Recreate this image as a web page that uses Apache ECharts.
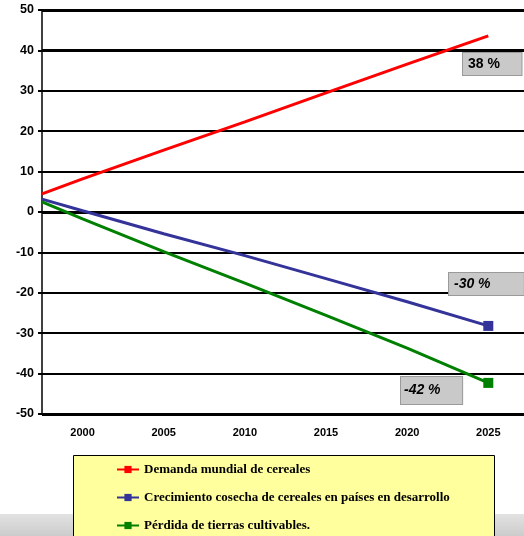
<!DOCTYPE html>
<html><head><meta charset="utf-8">
<script src="https://cdn.jsdelivr.net/npm/echarts@6/dist/echarts.min.js"></script>
<style>html,body{margin:0;padding:0;background:#fff}#c{width:524px;height:536px}</style>
</head><body><div id="c"></div>
<script>
const years = [1997.5, 2000, 2005, 2010, 2015, 2020, 2025];
const demanda = [4.5, 8.2, 15.3, 22.3, 29.5, 36.6, 43.6];
const cosecha = [3.2, 0.3, -5.4, -10.8, -16.5, -22.2, -28.2];
const perdida = [2.5, -1.7, -9.8, -17.6, -25.6, -33.7, -42.3];
const xTicks = [2000, 2005, 2010, 2015, 2020, 2025];
const seriesNames = ['Demanda mundial de cereales', 'Crecimiento cosecha de cereales en países en desarrollo', 'Pérdida de tierras cultivables.'];
const pctLabels = ['38 %', '-30 %', '-42 %'];

function build(vals, lastMarker) {
  return vals.map((v, i) => {
    const item = { value: [years[i], v] };
    if (!(lastMarker && i === vals.length - 1)) item.symbol = 'none';
    return item;
  });
}
const chart = echarts.init(document.getElementById('c'));
const boxStyle = (txt, italic) => ({
  text: txt, fill: '#000', font: (italic ? 'italic ' : '') + 'bold 14px "Liberation Sans", Arial',
  backgroundColor: '#c9c9c9', borderColor: '#9a9a9a', borderWidth: 1, borderType: 'dotted',
  padding: [4, 6, 4, 5]
});
const legendText = { fontFamily: '"Liberation Serif", "Times New Roman", serif', fontWeight: 'bold', fontSize: 13, color: '#000' };
chart.setOption({
  animation: false,
  grid: { left: 42, right: 0, top: 10, bottom: 122 },
  xAxis: {
    type: 'value', min: 1997.5, max: 2027.2,
    axisLine: { show: false }, axisTick: { show: false }, splitLine: { show: false },
    axisLabel: { customValues: xTicks, formatter: v => String(v), color: '#000', fontWeight: 'bold', fontSize: 11,
      fontFamily: '"Liberation Sans", Arial', margin: 13 }
  },
  yAxis: {
    type: 'value', min: -50, max: 50, interval: 10,
    axisLine: { show: true, onZero: false, lineStyle: { color: '#000', width: 1.5 } },
    axisTick: { show: true, length: 4, lineStyle: { color: '#000', width: 2 } },
    axisLabel: { color: '#000', fontWeight: 'bold', fontSize: 12.5, fontFamily: '"Liberation Sans", Arial', margin: 8 },
    splitLine: { show: true, lineStyle: { color: '#000', width: 2 } }
  },
  legend: [0, 1, 2].map(i => ({
    orient: 'horizontal', left: 116, top: 463 + i * 28, itemWidth: 22, itemHeight: 9, itemGap: 4,
    data: [seriesNames[i]], textStyle: legendText, padding: 0
  })),
  graphic: [
    { type: 'rect', z: -10, shape: { x: 0, y: 514, width: 524, height: 22 },
      style: { fill: new echarts.graphic.LinearGradient(0, 0, 0, 1, [{ offset: 0, color: '#e2e2e2' }, { offset: 1, color: '#cccccc' }]) } },
    { type: 'rect', z: -5, shape: { x: 73.5, y: 455.5, width: 421, height: 100 },
      style: { fill: '#ffff9e', stroke: '#000', lineWidth: 1 } },
    { type: 'text', z: 100, x: 463, y: 53, style: boxStyle(pctLabels[0] + '    ', false) },
    { type: 'text', z: 100, x: 449, y: 273, style: boxStyle(pctLabels[1] + '       ', true) },
    { type: 'text', z: 100, x: 401, y: 377, style: Object.assign(boxStyle(pctLabels[2] + '    ', true), { padding: [6, 6, 7, 3] }) }
  ],
  series: [
    { name: seriesNames[0], type: 'line', data: build(demanda, false), symbol: 'rect', symbolSize: 9,
      lineStyle: { color: '#ff0000', width: 3 }, itemStyle: { color: '#ff0000' }, z: 5,
      markLine: { silent: true, symbol: 'none', label: { show: false },
        lineStyle: { color: '#000', width: 3, type: 'solid' },
        data: [{ yAxis: 0 }, { yAxis: 40 }, { yAxis: 50 }, { yAxis: -50 }] } },
    { name: seriesNames[1], type: 'line', data: build(cosecha, true), symbol: 'rect', symbolSize: 10,
      lineStyle: { color: '#333399', width: 3 }, itemStyle: { color: '#333399' }, z: 5 },
    { name: seriesNames[2], type: 'line', data: build(perdida, true), symbol: 'rect', symbolSize: 10,
      lineStyle: { color: '#008000', width: 3 }, itemStyle: { color: '#008000' }, z: 5 }
  ]
});
</script></body></html>
